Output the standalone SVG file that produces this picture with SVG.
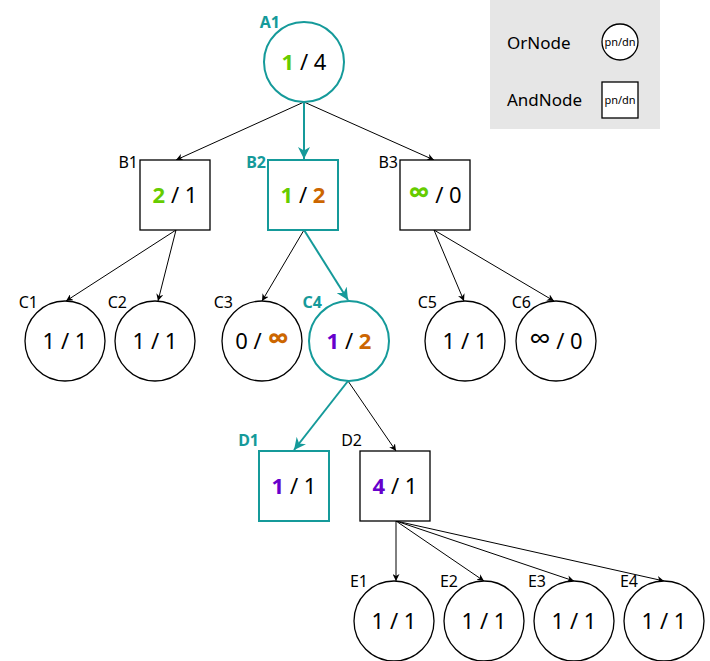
<svg xmlns="http://www.w3.org/2000/svg" width="710" height="661" viewBox="0 0 710 661">
<defs>
<marker id="ak" viewBox="0 0 10 10" refX="10" refY="5" markerWidth="7" markerHeight="7" orient="auto"><path d="M0,0L10,5L0,10L3,5z" fill="#000"/></marker>
<marker id="at" viewBox="0 0 10 10" refX="10" refY="5" markerWidth="6" markerHeight="6" orient="auto"><path d="M0,0L10,5L0,10L3,5z" fill="#159a9a"/></marker>
</defs>
<style>
text{font-family:"Noto Sans","Open Sans",sans-serif;}
.n{fill:#fff;stroke:#000;stroke-width:1.3}
.h{fill:#fff;stroke:#159a9a;stroke-width:2}
.v{font-size:22px;text-anchor:middle;fill:#000}
.l{font-size:16px;fill:#000;text-anchor:end}
.lt{font-size:16px;fill:#159a9a;font-weight:bold;text-anchor:end}
.g{fill:#66cc00;font-weight:bold}.o{fill:#cc6600;font-weight:bold}.p{fill:#6600cc;font-weight:bold}
.i{font-size:30px}
.e{stroke:#000;stroke-width:1;fill:none;marker-end:url(#ak)}
.et{stroke:#159a9a;stroke-width:2;fill:none;marker-end:url(#at)}
</style>
<rect x="490" y="0" width="170" height="129" fill="#e6e6e6"/>
<text x="507" y="49" font-size="17">OrNode</text>
<circle cx="620" cy="42" r="18" class="n"/>
<text x="620" y="46" font-size="11" text-anchor="middle">pn/dn</text>
<text x="507" y="106" font-size="17">AndNode</text>
<rect x="602" y="82" width="36" height="36" class="n"/>
<text x="620" y="104" font-size="11" text-anchor="middle">pn/dn</text>
<g id="connectors">
<line x1="304" y1="102" x2="176" y2="160" class="e"/>
<line x1="304" y1="102" x2="304" y2="159" class="et"/>
<line x1="304" y1="102" x2="434" y2="160" class="e"/>
<line x1="176" y1="230" x2="66" y2="301" class="e"/>
<line x1="176" y1="230" x2="158" y2="301" class="e"/>
<line x1="304" y1="230" x2="262" y2="301" class="e"/>
<line x1="304" y1="230" x2="348" y2="300" class="et"/>
<line x1="434" y1="230" x2="464" y2="301" class="e"/>
<line x1="434" y1="230" x2="554" y2="301" class="e"/>
<line x1="348" y1="381" x2="294" y2="450" class="et"/>
<line x1="348" y1="381" x2="396" y2="451" class="e"/>
<line x1="396" y1="521" x2="396" y2="581" class="e"/>
<line x1="396" y1="521" x2="484" y2="581" class="e"/>
<line x1="396" y1="521" x2="574" y2="581" class="e"/>
<line x1="396" y1="521" x2="664" y2="581" class="e"/>
</g>
<g id="A1"><circle cx="304" cy="62" r="40" class="h"/><text x="304" y="70" class="v"><tspan class="g">1</tspan> / 4</text><text x="280" y="28" class="lt">A1</text></g>
<g id="B1"><rect x="140" y="160" width="70" height="70" class="n"/><text x="175" y="203" class="v"><tspan class="g">2</tspan> / 1</text><text x="138" y="168" class="l">B1</text></g>
<g id="B2"><rect x="268" y="160" width="70" height="70" class="h"/><text x="303" y="203" class="v"><tspan class="g">1</tspan> / <tspan class="o">2</tspan></text><text x="266" y="168" class="lt">B2</text></g>
<g id="B3"><rect x="400" y="160" width="70" height="70" class="n"/><text x="435" y="203" class="v"><tspan class="g i">∞</tspan> / 0</text><text x="398" y="168" class="l">B3</text></g>
<g id="C1"><circle cx="65" cy="341" r="40" class="n"/><text x="65" y="349" class="v">1 / 1</text><text x="38" y="308" class="l">C1</text></g>
<g id="C2"><circle cx="155" cy="341" r="40" class="n"/><text x="155" y="349" class="v">1 / 1</text><text x="127" y="308" class="l">C2</text></g>
<g id="C3"><circle cx="262" cy="341" r="40" class="n"/><text x="262" y="349" class="v">0 / <tspan class="o i">∞</tspan></text><text x="233" y="308" class="l">C3</text></g>
<g id="C4"><circle cx="349" cy="341" r="40" class="h"/><text x="349" y="349" class="v"><tspan class="p">1</tspan> / <tspan class="o">2</tspan></text><text x="322" y="308" class="lt">C4</text></g>
<g id="C5"><circle cx="465" cy="341" r="40" class="n"/><text x="465" y="349" class="v">1 / 1</text><text x="437" y="308" class="l">C5</text></g>
<g id="C6"><circle cx="556" cy="341" r="40" class="n"/><text x="556" y="349" class="v"><tspan class="i">∞</tspan> / 0</text><text x="531" y="308" class="l">C6</text></g>
<g id="D1"><rect x="259" y="451" width="70" height="70" class="h"/><text x="294" y="494" class="v"><tspan class="p">1</tspan> / 1</text><text x="259" y="446" class="lt">D1</text></g>
<g id="D2"><rect x="360" y="451" width="70" height="70" class="n"/><text x="395" y="494" class="v"><tspan class="p">4</tspan> / 1</text><text x="362" y="446" class="l">D2</text></g>
<g id="E1"><circle cx="394" cy="621" r="40" class="n"/><text x="394" y="629" class="v">1 / 1</text><text x="368" y="587" class="l">E1</text></g>
<g id="E2"><circle cx="484" cy="621" r="40" class="n"/><text x="484" y="629" class="v">1 / 1</text><text x="458" y="587" class="l">E2</text></g>
<g id="E3"><circle cx="574" cy="621" r="40" class="n"/><text x="574" y="629" class="v">1 / 1</text><text x="546" y="587" class="l">E3</text></g>
<g id="E4"><circle cx="664" cy="621" r="40" class="n"/><text x="664" y="629" class="v">1 / 1</text><text x="638" y="587" class="l">E4</text></g>
</svg>
